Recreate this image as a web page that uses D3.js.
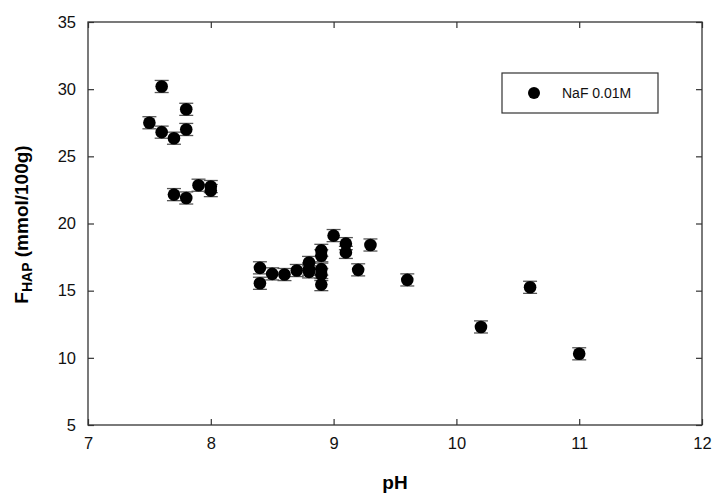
<!DOCTYPE html>
<html>
<head>
<meta charset="utf-8">
<script src="https://cdn.jsdelivr.net/npm/d3@7"></script>
<style>
  body { margin: 0; background: #fff; }
  text { font-family: "Liberation Sans", Arial, sans-serif; }
</style>
</head>
<body>
<div id="chart"></div>
<script>
// pH values and fluoride on HAP, NaF 0.01M
var ph = [7.5, 7.6, 7.6, 7.7, 7.8, 7.8, 7.7, 7.8, 7.9, 8.0, 8.0,
          8.4, 8.4, 8.5, 8.6, 8.7, 8.8, 8.8, 8.8, 8.9, 8.9, 8.9, 8.9, 8.9,
          9.0, 9.1, 9.1, 9.2, 9.3, 9.6, 10.2, 10.6, 11.0];
var fhap = [27.5, 30.2, 26.8, 26.35, 28.5, 27.0, 22.15, 21.9, 22.85, 22.75, 22.45,
            16.7, 15.55, 16.25, 16.2, 16.5, 17.1, 16.6, 16.4, 18.0, 17.6, 16.6, 16.2, 15.45,
            19.1, 18.5, 17.85, 16.55, 18.4, 15.8, 12.3, 15.25, 10.3];
var err = 0.45;
var xTicks = [7, 8, 9, 10, 11, 12];
var yTicks = [5, 10, 15, 20, 25, 30, 35];
var seriesName = "NaF 0.01M";

var width = 714, height = 496;
var margin = { top: 22, right: 12, bottom: 71, left: 88 };

var svg = d3.select("#chart").append("svg")
    .attr("width", width)
    .attr("height", height);

var x = d3.scaleLinear().domain([7, 12]).range([margin.left, width - margin.right]);
var y = d3.scaleLinear().domain([5, 35]).range([height - margin.bottom, margin.top]);

var data = ph.map(function (d, i) { return { ph: d, f: fhap[i] }; });

// frame
svg.append("rect")
    .attr("x", x(7)).attr("y", y(35))
    .attr("width", x(12) - x(7)).attr("height", y(5) - y(35))
    .attr("fill", "none").attr("stroke", "#333").attr("stroke-width", 1.3);

// axes with inward ticks
var gx = svg.append("g").attr("transform", "translate(0," + y(5) + ")")
    .call(d3.axisBottom(x).tickValues(xTicks).tickSize(-6).tickPadding(12).tickFormat(d3.format("d")));
var gxt = svg.append("g").attr("transform", "translate(0," + y(35) + ")")
    .call(d3.axisTop(x).tickValues(xTicks).tickSize(-6).tickFormat(""));
var gy = svg.append("g").attr("transform", "translate(" + x(7) + ",0)")
    .call(d3.axisLeft(y).tickValues(yTicks).tickSize(-6).tickPadding(12).tickFormat(d3.format("d")));
var gyr = svg.append("g").attr("transform", "translate(" + x(12) + ",0)")
    .call(d3.axisRight(y).tickValues(yTicks).tickSize(-6).tickFormat(""));

[gx, gxt, gy, gyr].forEach(function (g) {
    g.attr("font-size", null).attr("font-family", null);
    g.select(".domain").remove();
    g.selectAll(".tick line").attr("stroke", "#333").attr("stroke-width", 1.2);
    g.selectAll(".tick text").style("font-size", "16.5px").attr("fill", "#111");
});

// error bars
var eb = svg.append("g");
data.forEach(function (d) {
    var cx = x(d.ph);
    eb.append("line").attr("x1", cx).attr("x2", cx)
        .attr("y1", y(d.f - err)).attr("y2", y(d.f + err))
        .attr("stroke", "#000").attr("stroke-width", 1);
    [d.f - err, d.f + err].forEach(function (v) {
        eb.append("line").attr("x1", cx - 7).attr("x2", cx + 7)
            .attr("y1", y(v)).attr("y2", y(v))
            .attr("stroke", "#555").attr("stroke-width", 1.3);
    });
});

// points
svg.append("g").selectAll("circle")
    .data(data)
    .enter().append("circle")
    .attr("cx", function (d) { return x(d.ph); })
    .attr("cy", function (d) { return y(d.f); })
    .attr("r", 6.3)
    .attr("fill", "#000");

// axis titles
svg.append("text")
    .attr("x", (x(7) + x(12)) / 2)
    .attr("y", 489)
    .attr("text-anchor", "middle")
    .style("font-size", "19px")
    .attr("font-weight", "bold")
    .text("pH");

var yt = svg.append("text")
    .attr("transform", "translate(28," + (y(20) + 1) + ") rotate(-90)")
    .attr("text-anchor", "middle")
    .style("font-size", "19px")
    .attr("font-weight", "bold");
yt.append("tspan").text("F");
yt.append("tspan").style("font-size", "14px").attr("dy", "4").text("HAP");
yt.append("tspan").attr("dy", "-4").text(" (mmol/100g)");

// legend
var lg = svg.append("g");
lg.append("rect")
    .attr("x", 502).attr("y", 73).attr("width", 156).attr("height", 40)
    .attr("fill", "#fff").attr("stroke", "#333").attr("stroke-width", 1.2);
lg.append("circle").attr("cx", 534).attr("cy", 93).attr("r", 6).attr("fill", "#000");
lg.append("text").attr("x", 562).attr("y", 98)
    .style("font-size", "14px").attr("fill", "#111").text(seriesName);
</script>
</body>
</html>
